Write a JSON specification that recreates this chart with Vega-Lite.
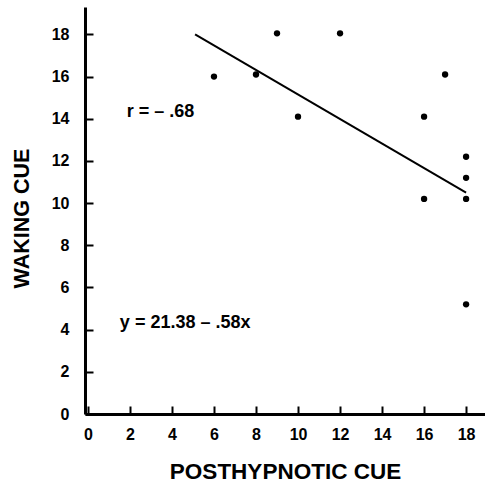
{
  "$schema": "https://vega.github.io/schema/vega-lite/v6.json",
  "width": 400,
  "height": 407,
  "autosize": {"type": "none"},
  "padding": {"left": 85, "top": 7, "right": 0, "bottom": 68},
  "background": "white",
  "config": {
    "view": {"stroke": null},
    "font": "Liberation Sans",
    "axis": {
      "grid": false,
      "domainColor": "black",
      "domainWidth": 3,
      "tickColor": "black",
      "tickWidth": 2,
      "tickSize": -8,
      "labelColor": "black",
      "labelFont": "Liberation Sans",
      "labelFontWeight": "bold",
      "labelFontSize": 16,
      "titleColor": "black",
      "titleFont": "Liberation Sans",
      "titleFontWeight": "bold"
    }
  },
  "datasets": {
    "points": [
      {"posthypnotic": 6, "waking": 16.0},
      {"posthypnotic": 8, "waking": 16.1},
      {"posthypnotic": 9, "waking": 18.05},
      {"posthypnotic": 10, "waking": 14.1},
      {"posthypnotic": 12, "waking": 18.05},
      {"posthypnotic": 16, "waking": 14.1},
      {"posthypnotic": 16, "waking": 10.2},
      {"posthypnotic": 17, "waking": 16.1},
      {"posthypnotic": 18, "waking": 12.2},
      {"posthypnotic": 18, "waking": 11.2},
      {"posthypnotic": 18, "waking": 10.2},
      {"posthypnotic": 18, "waking": 5.2}
    ],
    "fit": [
      {"posthypnotic": 5.1, "waking": 18.0},
      {"posthypnotic": 18.0, "waking": 10.5}
    ],
    "notes": [
      {"posthypnotic": 1.85, "waking": 14.3, "label": "r = – .68"},
      {"posthypnotic": 1.52, "waking": 4.31, "label": "y = 21.38 – .58x"}
    ]
  },
  "layer": [
    {
      "data": {"name": "points"},
      "mark": {"type": "circle", "color": "black", "opacity": 1, "size": 40},
      "encoding": {
        "x": {
          "field": "posthypnotic",
          "type": "quantitative",
          "scale": {"domain": [-0.14, 18.9], "nice": false, "zero": false},
          "axis": {
            "title": "POSTHYPNOTIC CUE",
            "titleFontSize": 22.5,
            "values": [0, 2, 4, 6, 8, 10, 12, 14, 16, 18],
            "labelPadding": 20,
            "titlePadding": 18
          }
        },
        "y": {
          "field": "waking",
          "type": "quantitative",
          "scale": {"domain": [0, 19.3], "nice": false, "zero": false},
          "axis": {
            "title": "WAKING CUE",
            "titleFontSize": 21.5,
            "values": [0, 2, 4, 6, 8, 10, 12, 14, 16, 18],
            "labelPadding": 24,
            "titlePadding": 18,
            "titleY": 211
          }
        }
      }
    },
    {
      "data": {"name": "fit"},
      "mark": {"type": "line", "color": "black", "strokeWidth": 2},
      "encoding": {
        "x": {"field": "posthypnotic", "type": "quantitative"},
        "y": {"field": "waking", "type": "quantitative"}
      }
    },
    {
      "data": {"name": "notes"},
      "mark": {"type": "text", "align": "left", "baseline": "middle", "fontSize": 18, "fontWeight": "bold", "font": "Liberation Sans", "color": "black"},
      "encoding": {
        "x": {"field": "posthypnotic", "type": "quantitative"},
        "y": {"field": "waking", "type": "quantitative"},
        "text": {"field": "label"}
      }
    }
  ]
}
